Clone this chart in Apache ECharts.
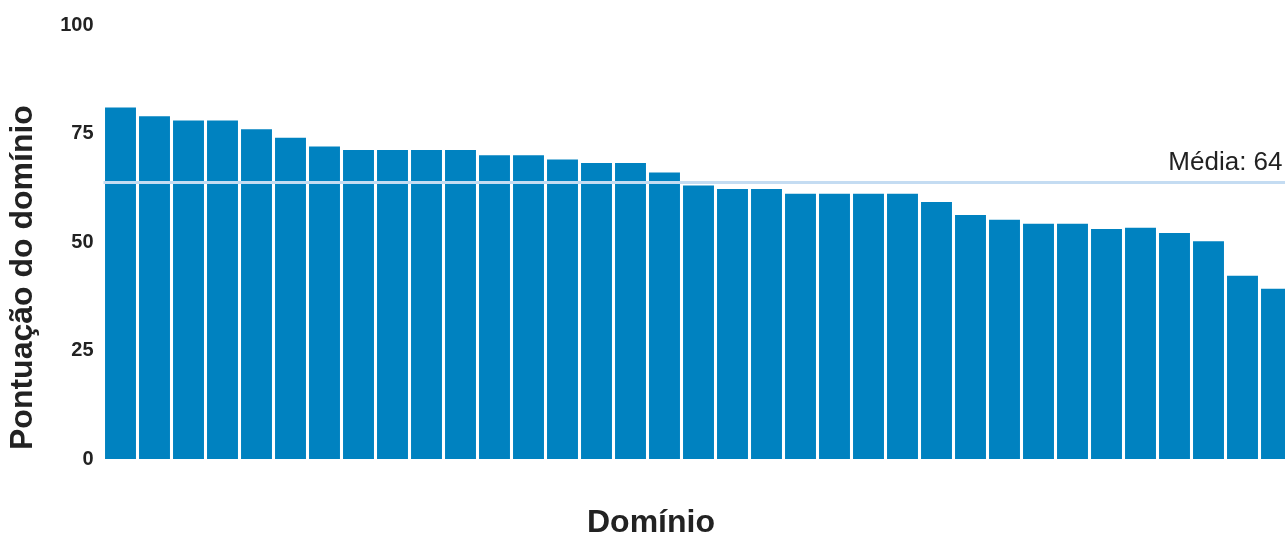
<!DOCTYPE html>
<html>
<head>
<meta charset="utf-8">
<script src="https://cdn.jsdelivr.net/npm/echarts@6/dist/echarts.min.js"></script>
<style>
html,body{margin:0;padding:0;background:#fff;}
#chart{width:1285px;height:538px;}
</style>
</head>
<body>
<div id="chart"></div>
<script>
const categories = Array.from({length: 35}, (_, i) => 'D' + (i + 1));
const scores = [81, 79, 78, 78, 76, 74, 72, 71.2, 71.2, 71.2, 71.2, 70, 70, 69, 68.2, 68.2, 66, 63, 62.2, 62.2, 61.1, 61.1, 61.1, 61.1, 59.2, 56.2, 55.1, 54.2, 54.2, 53, 53.3, 52.1, 50.2, 42.2, 39.2];
const yTicks = [0, 25, 50, 75, 100];
const meanLabel = 'Média: ';
const xTitle = 'Domínio';
const yTitle = 'Pontuação do domínio';

const chart = echarts.init(document.getElementById('chart'), null, {renderer: 'canvas'});
const font = '"Liberation Sans", Arial, Helvetica, sans-serif';
chart.setOption({
  animation: false,
  grid: {left: 103.5, width: 1190, top: 25, bottom: 79, outerBoundsMode: 'none', containLabel: false},
  xAxis: {
    type: 'category',
    data: categories,
    axisLine: {show: false},
    axisTick: {show: false},
    axisLabel: {show: false},
    splitLine: {show: false}
  },
  yAxis: {
    type: 'value',
    min: yTicks[0],
    max: yTicks[yTicks.length - 1],
    interval: 25,
    axisLine: {show: false},
    axisTick: {show: false},
    splitLine: {show: false},
    axisLabel: {
      margin: 10,
      color: '#222',
      fontFamily: font,
      fontWeight: 'bold',
      fontSize: 20
    }
  },
  graphic: [
    {
      type: 'text',
      left: 587,
      top: 507,
      style: {text: xTitle, fontFamily: font, fontWeight: 'bold', fontSize: 32, fill: '#222'}
    },
    {
      type: 'text',
      x: 7,
      y: 450,
      rotation: Math.PI / 2,
      style: {text: yTitle, fontFamily: font, fontWeight: 'bold', fontSize: 32, fill: '#222', textVerticalAlign: 'top'}
    }
  ],
  series: [{
    type: 'bar',
    data: scores,
    barCategoryGap: '9%',
    itemStyle: {color: '#0082c0'},
    markLine: {
      symbol: 'none',
      silent: true,
      data: [{type: 'average'}],
      lineStyle: {color: '#c4dcf2', width: 3, type: 'solid', opacity: 1},
      label: {
        position: 'insideEndTop',
        distance: [11, 6],
        formatter: p => meanLabel + Math.round(p.value),
        fontFamily: font,
        fontSize: 26,
        color: '#222'
      }
    }
  }]
});
</script>
</body>
</html>
